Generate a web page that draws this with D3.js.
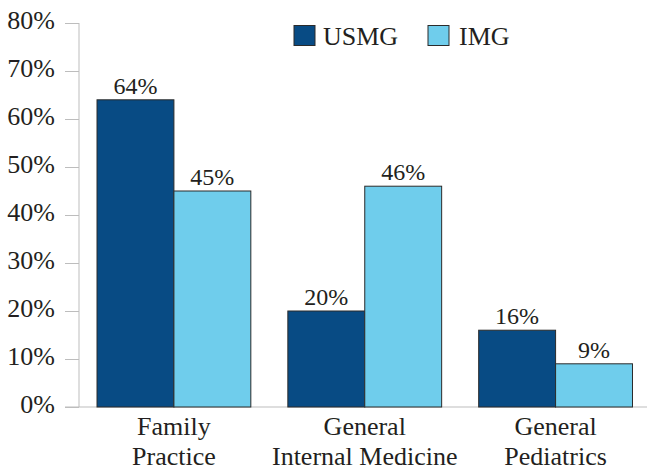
<!DOCTYPE html>
<html>
<head>
<meta charset="utf-8">
<script src="https://cdn.jsdelivr.net/npm/d3@7"></script>
<style>
  body { margin: 0; background: #fff; }
</style>
</head>
<body>
<svg id="chart" width="647" height="470"></svg>
<script>
let categories = [['Family', 'Practice'], ['General', 'Internal Medicine'], ['General', 'Pediatrics']]
let series = ['USMG', 'IMG']
let usmg = [64, 20, 16]
let img = [45, 46, 9]
let yTicks = [0, 10, 20, 30, 40, 50, 60, 70, 80]
let colors = ['#084b84', '#6fcdec']

const FONT = '"Liberation Serif", "Times New Roman", Times, serif'
const INK = '#231f20'

let chart = d3.select('#chart').style('font-family', FONT)
let keys = categories.map(c => c.join(' '))

// Scales
let xScale = d3.scaleBand(keys, [78.5, 651]).paddingInner(0.194).paddingOuter(0.097)
let xInner = d3.scaleBand(series, [0, xScale.bandwidth()])
let yScale = d3.scaleLinear([0, 80], [407, 23])

// Y axis
let yAxis = d3.axisLeft(yScale).tickValues(yTicks).tickFormat(d => d + '%').tickSize(14).tickPadding(10)
let gy = chart.append('g').attr('transform', 'translate(79, 0)').call(yAxis)
gy.attr('font-family', null).attr('font-size', null)
gy.select('.domain').attr('stroke', '#bdbdbd').attr('d', 'M0,23V407')
gy.selectAll('.tick line').attr('stroke', '#bdbdbd')
gy.selectAll('.tick text').style('font-family', FONT).style('font-size', '26px')
  .attr('dy', '0.2em').attr('fill', INK)

// X axis line
chart.append('line').attr('x1', 65).attr('x2', 647).attr('y1', 407).attr('y2', 407)
  .attr('stroke', '#bdbdbd')

// Bars
let groups = chart.append('g').selectAll('g').data(keys).join('g')
  .attr('transform', d => `translate(${xScale(d)}, 0)`)

groups.each(function (k, i) {
  let g = d3.select(this)
  let data = series.map((s, j) => ({ s: s, j: j, v: [usmg, img][j][i] }))
  g.selectAll('rect').data(data).join('rect')
    .attr('x', d => xInner(d.s))
    .attr('y', d => yScale(d.v))
    .attr('width', xInner.bandwidth())
    .attr('height', d => yScale(0) - yScale(d.v))
    .attr('fill', d => colors[d.j])
    .attr('stroke', '#2b2b2b')
    .attr('stroke-width', 1)
  g.selectAll('text.val').data(data).join('text')
    .attr('class', 'val')
    .attr('x', d => xInner(d.s) + xInner.bandwidth() / 2)
    .attr('y', d => yScale(d.v) - 6)
    .attr('text-anchor', 'middle')
    .style('font-family', FONT).style('font-size', '24px').attr('fill', INK)
    .text(d => d.v + '%')
})

// Category labels
categories.forEach((lines, i) => {
  let cx = xScale(keys[i]) + xScale.bandwidth() / 2
  let t = chart.append('text')
    .attr('text-anchor', 'middle')
    .style('font-family', FONT).style('font-size', '26px').attr('fill', INK)
  lines.forEach((l, j) => {
    t.append('tspan').attr('x', cx).attr('y', 435 + j * 30).text(l)
  })
})

// Legend
let legendX = [294, 428]
series.forEach((s, i) => {
  chart.append('rect').attr('x', legendX[i]).attr('y', 25.5).attr('width', 21).attr('height', 20)
    .attr('fill', colors[i]).attr('stroke', '#2b2b2b')
  chart.append('text').attr('x', legendX[i] + 29 + i * 2).attr('y', 45)
    .style('font-family', FONT).style('font-size', '26px').attr('fill', INK).text(s)
})
</script>
</body>
</html>
